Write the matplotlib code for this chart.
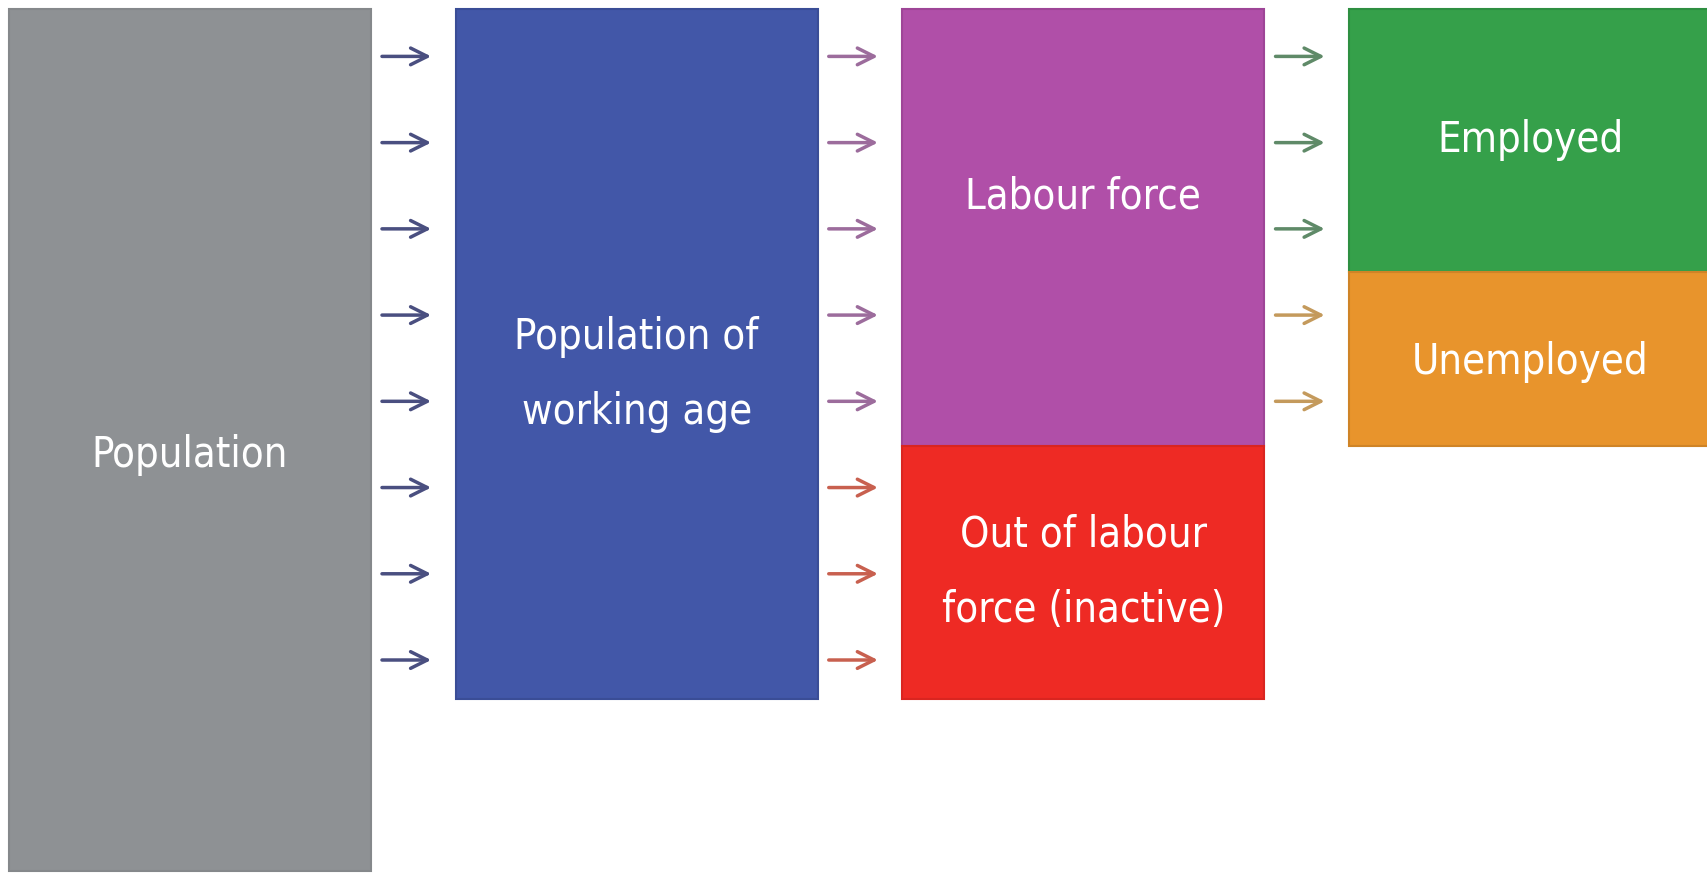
import numpy as np
import matplotlib.pyplot as plt
from matplotlib.patches import Rectangle

# boxes: column, label, size (in arrow units), colour
labels = ["Population", "Population of\nworking age", "Labour force",
          "Out of labour\nforce (inactive)", "Employed", "Unemployed"]
columns = [0, 1, 2, 2, 3, 3]
sizes = [10, 8, 5.07, 2.93, 3.05, 2.02]
colors = ["#8e9194", "#4257a8", "#b04fa8", "#ee2a24", "#35a04a", "#e8942c"]
edges = ["#85888b", "#3a4d96", "#9e4597", "#d92520", "#2e8f41", "#cf8427"]
label_shift = [0.17, 0.24, -0.36, 0.0, 0.0, 0.03]

# arrows between columns: one per unit of the box they lead to
arrow_counts = [[8], [5, 3], [3, 2]]
arrow_colors = [["#4a4f80"], ["#9c6c9c", "#c8604f"], ["#5f8a68", "#c49a5c"]]

fig = plt.figure(figsize=(17.08, 8.73), dpi=100)
ax = fig.add_axes([0, 0, 1, 1])

w = 0.81
bottoms = {}
for col, lab, s, c, ec, sh in zip(columns, labels, sizes, colors, edges, label_shift):
    b = bottoms.get(col, 0)
    ax.add_patch(Rectangle((col - w / 2, b), w, s, facecolor=c, edgecolor=ec, lw=1.5))
    ax.text(col, b + s / 2 + sh, lab, ha="center", va="center", color="white",
            fontsize=30, fontstretch="condensed", linespacing=2.0,
            family=["DejaVu Sans"])
    bottoms[col] = b + s

for i, (counts, cols) in enumerate(zip(arrow_counts, arrow_colors)):
    k = 0
    for n, c in zip(counts, cols):
        for j in range(n):
            y = k + 0.55
            ax.annotate("", xy=(i + 0.54, y), xytext=(i + 0.43, y),
                        arrowprops=dict(arrowstyle="->", color=c, lw=2.5,
                                        mutation_scale=30, shrinkA=0, shrinkB=0))
            k += 1

ax.set_xlim(-0.425, 3.398)
ax.set_ylim(10.02, -0.104)
ax.axis("off")
fig.savefig("out.png", dpi=100)
